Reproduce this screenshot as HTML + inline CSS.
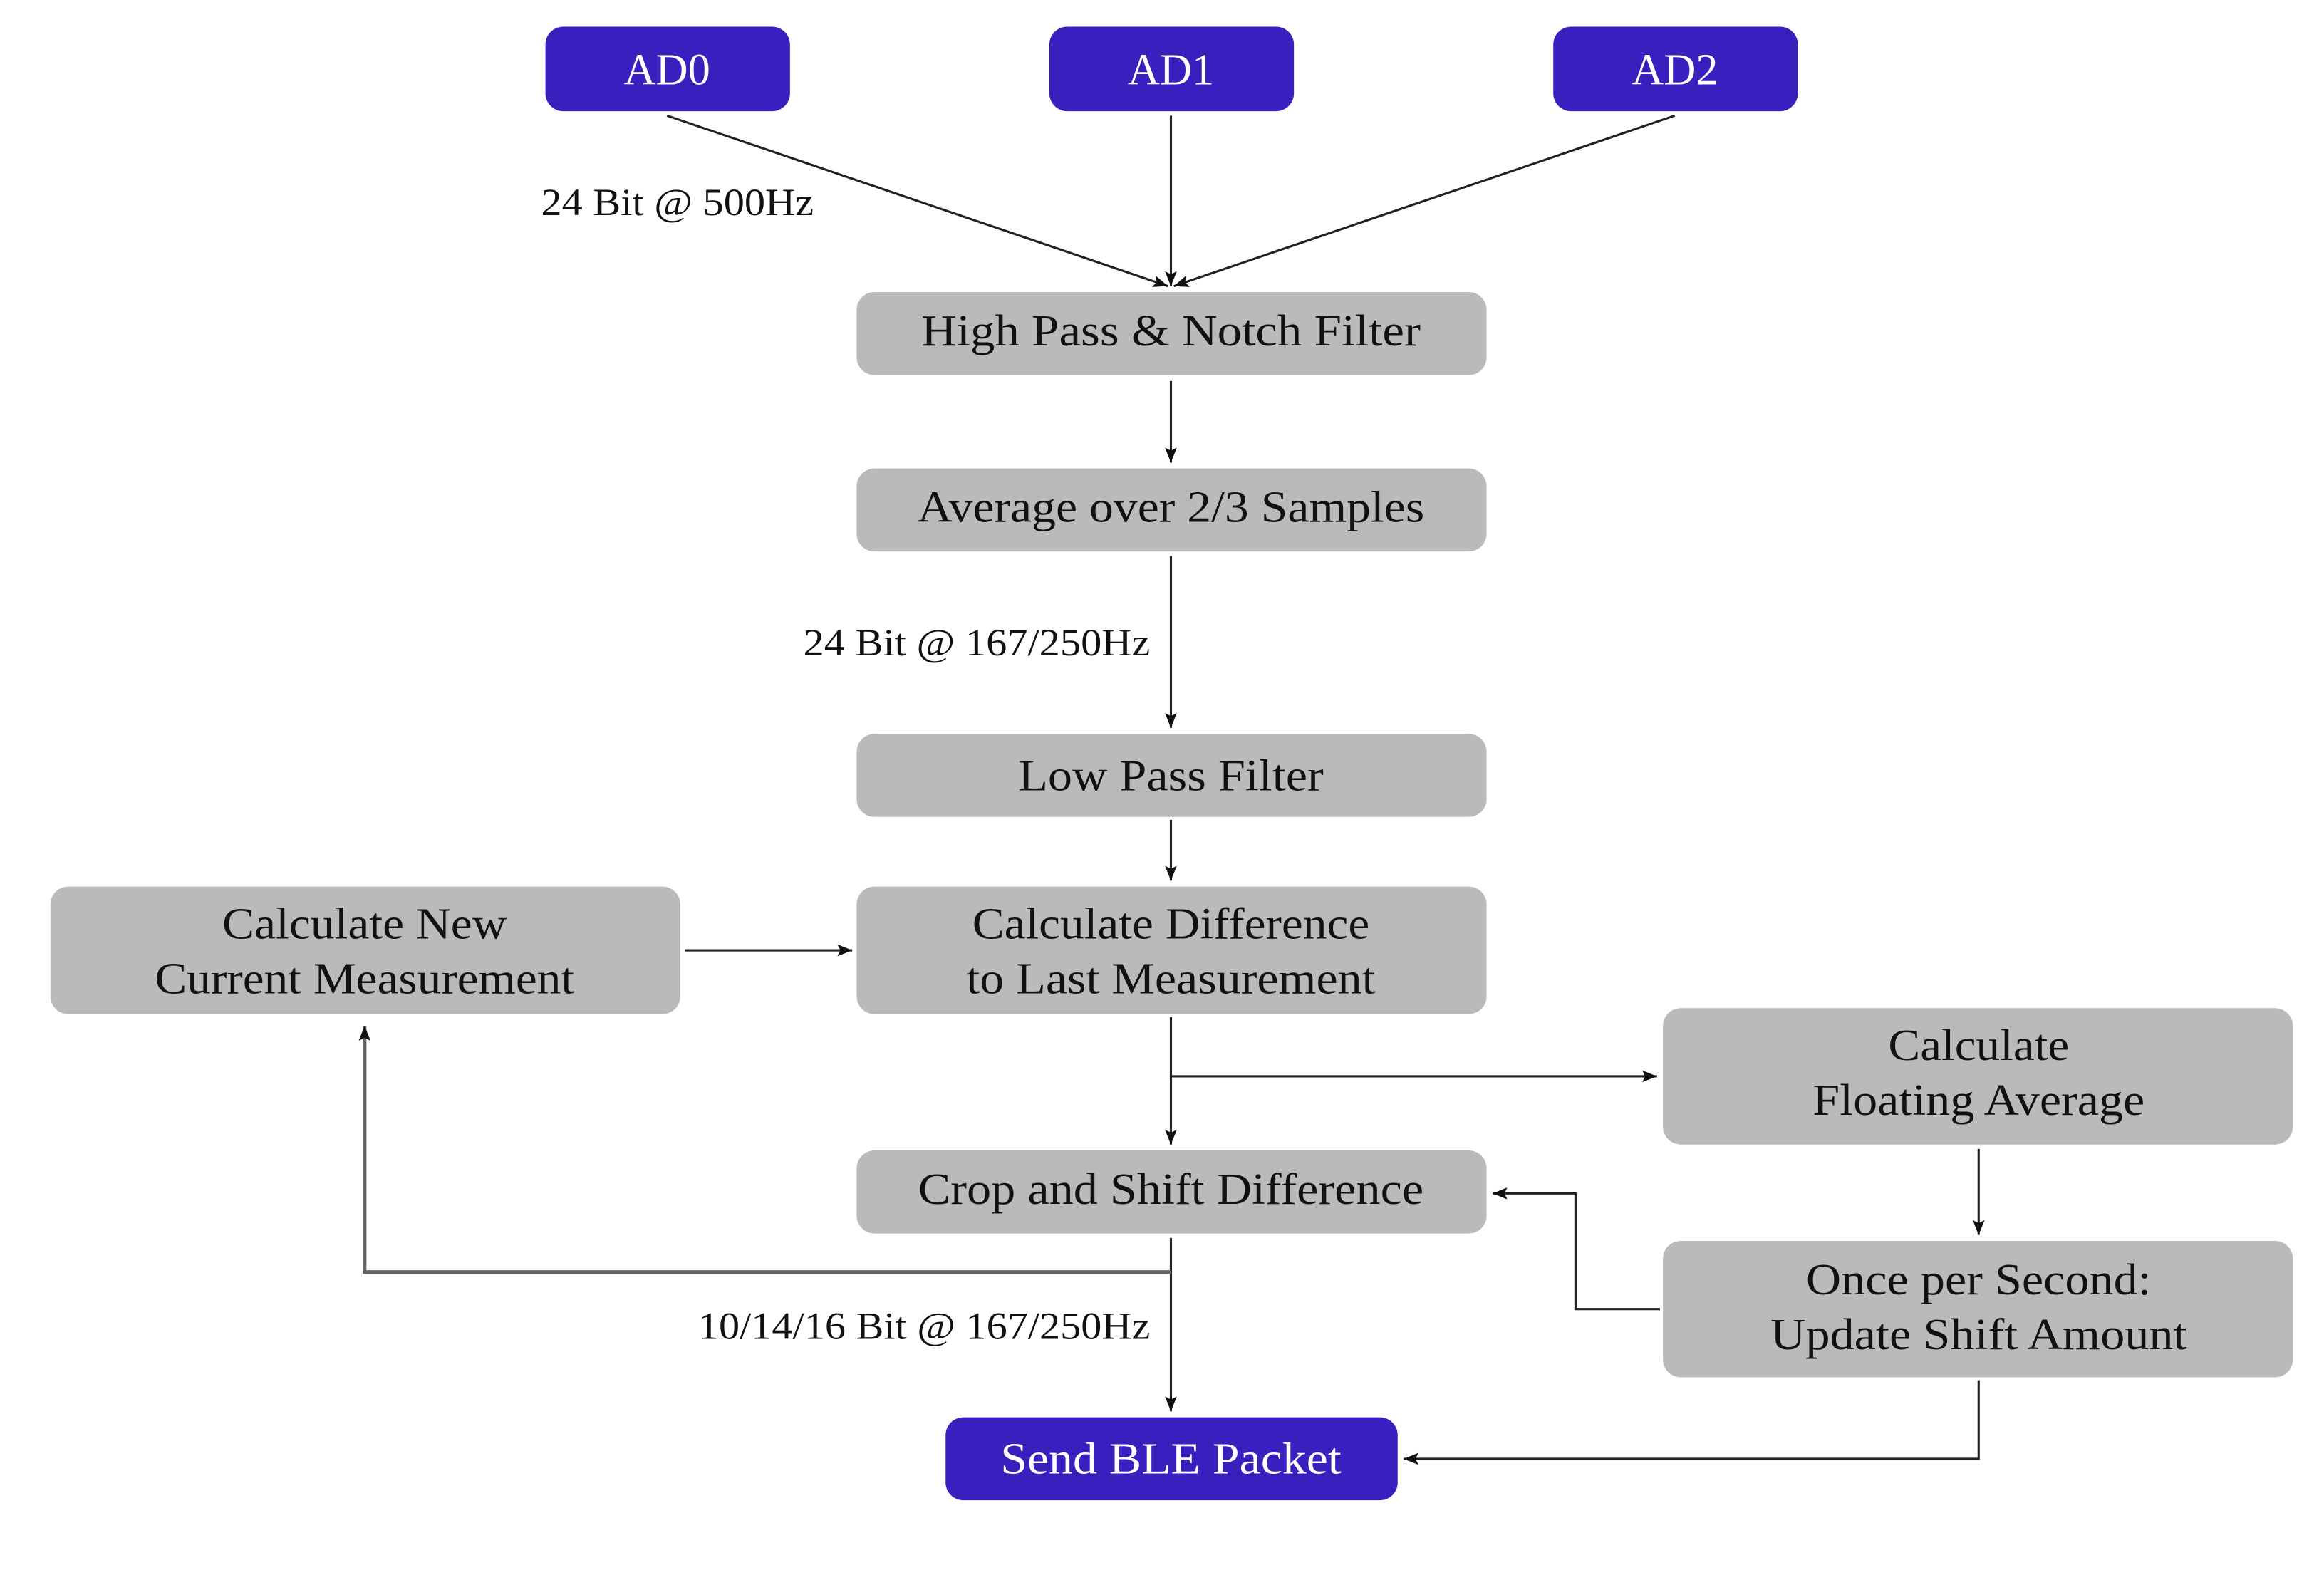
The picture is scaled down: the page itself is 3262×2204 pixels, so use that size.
<!DOCTYPE html>
<html><head><meta charset="utf-8"><style>html,body{margin:0;padding:0;background:#fff}svg{display:block}</style></head>
<body>
<svg width="3262" height="2204" viewBox="0 0 1568 1059" preserveAspectRatio="none" xmlns="http://www.w3.org/2000/svg" font-family="'Liberation Serif', serif">
<defs>
<marker id="a" markerWidth="10" markerHeight="8" refX="10" refY="4" orient="auto" markerUnits="userSpaceOnUse"><path d="M0,0 L10,4 L0,8 L2,4 Z" fill="#111"/></marker>
</defs>
<g fill="#3a1fbf">
<rect x="368" y="18" width="165" height="57" rx="12"/>
<rect x="708" y="18" width="165" height="57" rx="12"/>
<rect x="1048" y="18" width="165" height="57" rx="12"/>
<rect x="638" y="956" width="305" height="56" rx="12"/>
</g>
<g fill="#bababa">
<rect x="578" y="197" width="425" height="56" rx="12"/>
<rect x="578" y="316" width="425" height="56" rx="12"/>
<rect x="578" y="495" width="425" height="56" rx="12"/>
<rect x="578" y="598" width="425" height="86" rx="12"/>
<rect x="34" y="598" width="425" height="86" rx="12"/>
<rect x="1122" y="680" width="425" height="92" rx="12"/>
<rect x="578" y="776" width="425" height="56" rx="12"/>
<rect x="1122" y="837" width="425" height="92" rx="12"/>
</g>
<g stroke="#222" stroke-width="1.5" fill="none" marker-end="url(#a)">
<line x1="450" y1="78" x2="788" y2="193"/>
<line x1="790" y1="78" x2="790" y2="193"/>
<line x1="1130" y1="78" x2="792" y2="193"/>
<line x1="790" y1="257" x2="790" y2="312"/>
<line x1="790" y1="375" x2="790" y2="491"/>
<line x1="790" y1="553" x2="790" y2="594"/>
<line x1="462" y1="641" x2="575" y2="641"/>
<line x1="790" y1="686" x2="790" y2="772"/>
<polyline points="790,726 1118,726"/>
<line x1="1335" y1="775" x2="1335" y2="833"/>
<polyline points="1120,883 1063,883 1063,805 1007,805"/>
<line x1="790" y1="835" x2="790" y2="952"/>
<polyline points="1335,931 1335,984 947,984"/>
</g>
<polyline points="790,858 246,858 246,692" stroke="#666" stroke-width="2.5" fill="none" marker-end="url(#a)"/>
<g font-size="30" text-anchor="middle" fill="#fff">
<text x="450" y="57">AD0</text>
<text x="790" y="57">AD1</text>
<text x="1130" y="57">AD2</text>
<text x="790" y="994" textLength="230" lengthAdjust="spacingAndGlyphs">Send BLE Packet</text>
</g>
<g font-size="30" text-anchor="middle" fill="#111">
<text x="790" y="233" textLength="337" lengthAdjust="spacingAndGlyphs">High Pass &amp; Notch Filter</text>
<text x="790" y="352" textLength="342" lengthAdjust="spacingAndGlyphs">Average over 2/3 Samples</text>
<text x="790" y="533" textLength="206" lengthAdjust="spacingAndGlyphs">Low Pass Filter</text>
<text x="790" y="633" textLength="268" lengthAdjust="spacingAndGlyphs">Calculate Difference</text>
<text x="790" y="670" textLength="276" lengthAdjust="spacingAndGlyphs">to Last Measurement</text>
<text x="246" y="633" textLength="192" lengthAdjust="spacingAndGlyphs">Calculate New</text>
<text x="246" y="670" textLength="283" lengthAdjust="spacingAndGlyphs">Current Measurement</text>
<text x="1335" y="715" textLength="122" lengthAdjust="spacingAndGlyphs">Calculate</text>
<text x="1335" y="752" textLength="224" lengthAdjust="spacingAndGlyphs">Floating Average</text>
<text x="790" y="812" textLength="341" lengthAdjust="spacingAndGlyphs">Crop and Shift Difference</text>
<text x="1335" y="873" textLength="233" lengthAdjust="spacingAndGlyphs">Once per Second:</text>
<text x="1335" y="910" textLength="281" lengthAdjust="spacingAndGlyphs">Update Shift Amount</text>
</g>
<g font-size="26" fill="#111">
<text x="365" y="145" textLength="184" lengthAdjust="spacingAndGlyphs">24 Bit @ 500Hz</text>
<text x="542" y="442" textLength="234" lengthAdjust="spacingAndGlyphs">24 Bit @ 167/250Hz</text>
<text x="471" y="903" textLength="305" lengthAdjust="spacingAndGlyphs">10/14/16 Bit @ 167/250Hz</text>
</g>
</svg>
</body></html>
